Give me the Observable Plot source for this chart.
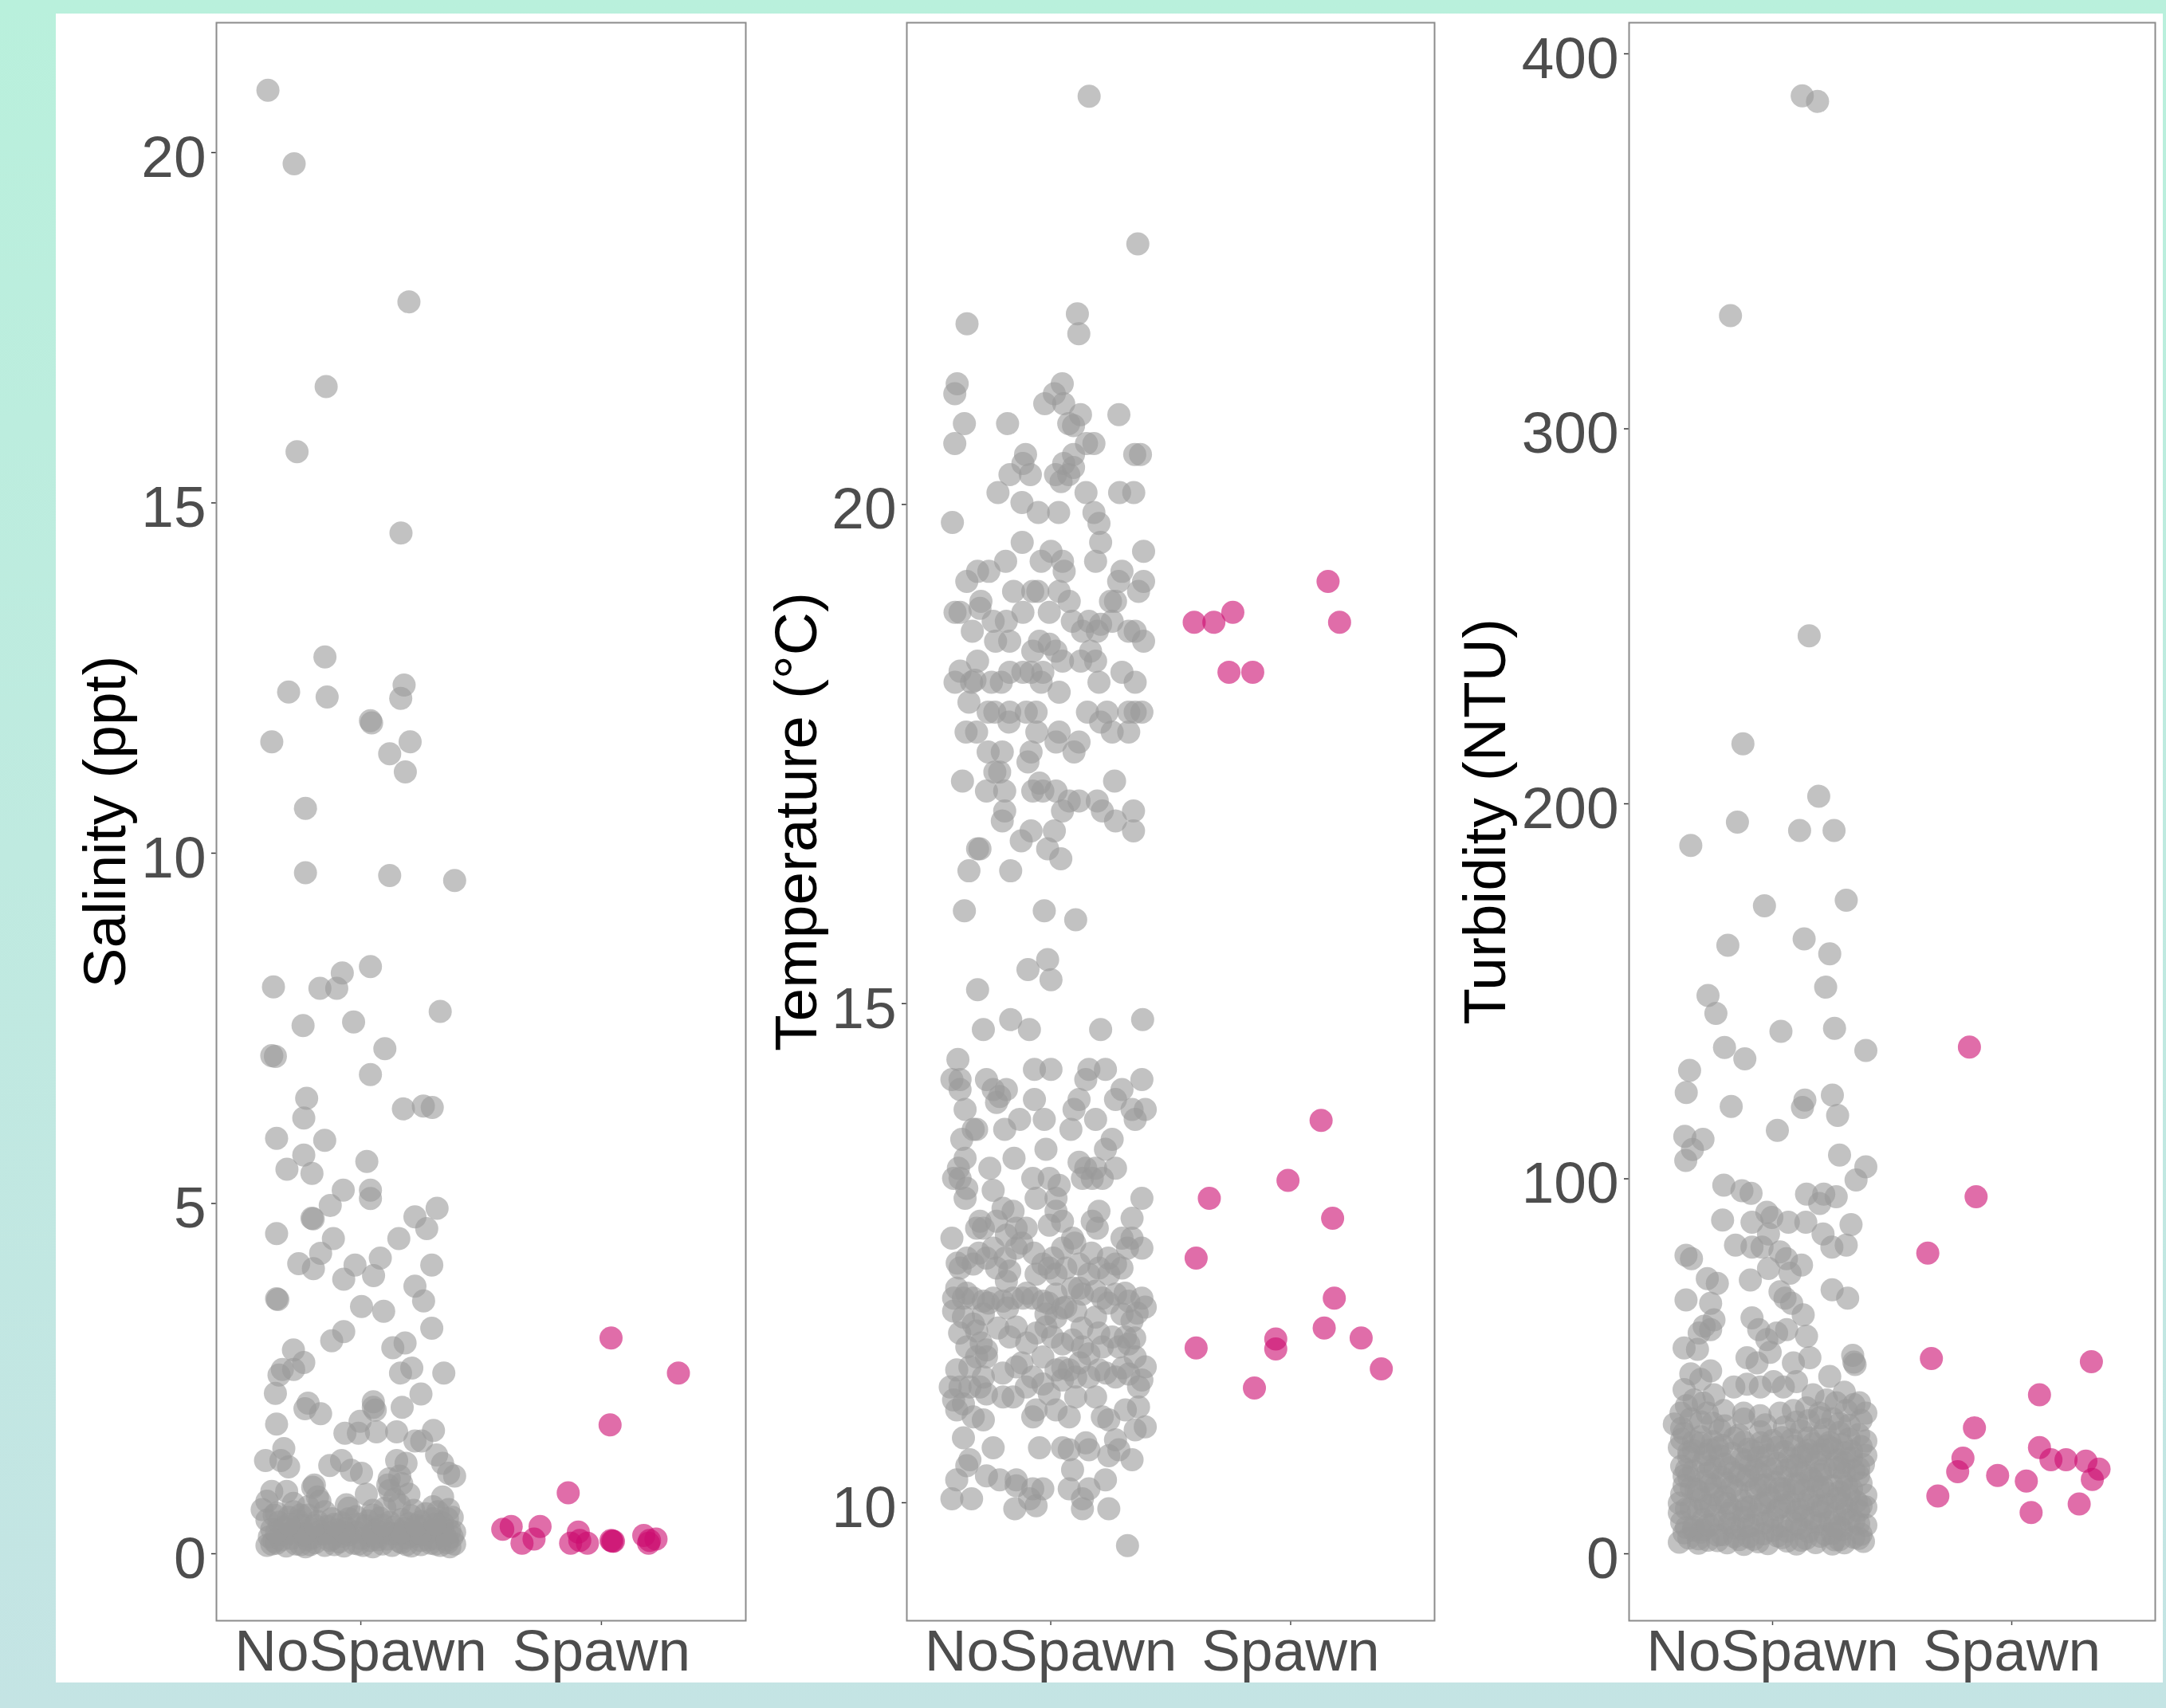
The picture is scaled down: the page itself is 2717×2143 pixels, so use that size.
<!DOCTYPE html>
<html><head><meta charset="utf-8">
<script src="https://cdn.jsdelivr.net/npm/d3@7"></script>
<script src="https://cdn.jsdelivr.net/npm/@observablehq/plot@0.6"></script>
<style>
html,body{margin:0;padding:0}
body{width:2717px;height:2143px;position:relative;overflow:hidden;background:linear-gradient(180deg,#b9f0dc 0%,#bfeae0 50%,#c4e4e4 100%);font-family:"Liberation Sans",Arial,sans-serif}
#sheet{position:absolute;left:70px;top:17px;width:2643px;height:2094px;background:#fff;overflow:visible}
.panel{position:absolute;top:0}
</style></head><body><div id="sheet"></div>
<script>
const categories = ["NoSpawn", "Spawn"];
const salinityTicks = [0, 5, 10, 15, 20];
const temperatureTicks = [10, 15, 20];
const turbidityTicks = [0, 100, 200, 300, 400];

// [value, jitter] pairs
const salinityNoSpawn = [
[20.89,-0.386],[19.84,-0.277],[17.87,0.20],[16.66,-0.144],[15.73,-0.265],[14.57,0.167],
[12.80,-0.149],[12.30,-0.30],[12.23,-0.14],[12.40,0.18],[12.21,0.166],[11.59,-0.37],[11.89,0.04],[11.86,0.045],
[11.59,0.205],[11.42,0.12],[11.16,0.185],[10.64,-0.23],[9.72,-0.23],[9.68,0.12],[9.61,0.39],[8.38,0.04],
[8.29,-0.077],[8.09,-0.363],[8.07,-0.17],[8.07,-0.1],[7.74,0.33],[7.54,-0.24],[7.59,-0.03],[7.11,-0.37],
[7.10,-0.355],[7.21,0.10],[6.84,0.04],[6.50,-0.225],[6.35,0.177],[6.39,0.26],[6.37,0.297],[6.22,-0.237],
[5.93,-0.35],[5.90,-0.15],[5.69,-0.237],[5.49,-0.307],[5.43,-0.203],[5.60,0.025],[5.19,-0.073],[5.19,0.04],
[5.07,0.04],[4.97,-0.127],[4.79,-0.203],[4.78,-0.198],[4.57,-0.35],[4.50,-0.114],[4.81,0.225],[4.93,0.317],
[4.64,0.274],[4.50,0.158],[4.29,-0.167],[4.14,-0.258],[4.07,-0.197],[4.12,-0.024],[4.22,0.081],[3.92,-0.071],
[3.97,0.053],[4.12,0.295],[3.64,-0.35],[3.63,-0.345],[3.82,0.225],[3.61,0.261],[3.53,0.003],[3.46,0.095],
[3.22,0.295],[3.17,-0.071],[3.04,-0.121],[3.01,0.184],[2.94,0.133],[2.91,-0.28],[2.73,-0.237],[2.63,-0.326],
[2.63,-0.279],[2.55,-0.34],[2.65,0.212],[2.58,0.165],[2.58,0.345],[2.29,-0.355],[2.28,0.25],[2.15,-0.219],
[2.00,-0.167],[2.07,-0.232],[2.17,0.052],[2.09,0.052],[2.05,0.06],[2.09,0.172],[1.85,-0.35],[1.72,-0.066],
[1.72,-0.01],[1.89,-0.003],[1.74,0.065],[1.74,0.149],[1.76,0.302],[1.61,0.225],[1.61,0.253],[1.50,-0.32],
[1.33,-0.396],[1.33,-0.332],[1.24,-0.30],[1.26,-0.129],[1.33,-0.08],[1.19,-0.04],[1.15,0.003],[1.33,0.149],
[1.29,0.188],[1.11,0.162],[1.07,0.118],[1.41,0.315],[1.29,0.34],[1.15,0.365],[1.11,0.39],[0.98,-0.193],
[0.81,-0.18],[0.67,-0.219],[0.89,-0.37],[0.89,-0.308],[0.85,0.023],[0.98,0.112],[0.81,0.34],[0.63,-0.41],
[0.67,0.30],[0.63,0.365],
[0.95,-0.2],[0.75,-0.17],[0.6,-0.15],[0.55,-0.25],[0.72,-0.28],[0.9,0.12],[0.78,0.14],[0.65,0.1],[0.7,0.16],
[0.55,0.05],[0.6,0.32],[0.5,0.36],[0.75,-0.39],[0.55,-0.36],[0.5,-0.05],[0.62,0.22],[0.7,-0.06],[1.0,0.17],[0.85,0.2],
[0.12,-0.39],[0.15,-0.35],[0.11,-0.31],[0.14,-0.27],[0.10,-0.23],[0.16,-0.19],[0.12,-0.15],[0.13,-0.11],
[0.11,-0.07],[0.15,-0.03],[0.12,0.01],[0.10,0.05],[0.14,0.09],[0.12,0.13],[0.16,0.17],[0.11,0.21],[0.13,0.25],
[0.15,0.29],[0.12,0.33],[0.10,0.37],[0.14,0.39],
[0.24,-0.38],[0.27,-0.33],[0.22,-0.29],[0.26,-0.24],[0.23,-0.2],[0.28,-0.16],[0.21,-0.12],[0.25,-0.08],
[0.27,-0.05],[0.22,0.0],[0.26,0.03],[0.24,0.07],[0.21,0.11],[0.28,0.15],[0.23,0.19],[0.25,0.23],[0.27,0.27],
[0.22,0.31],[0.26,0.35],[0.24,0.38],
[0.35,-0.37],[0.38,-0.32],[0.33,-0.28],[0.41,-0.25],[0.36,-0.21],[0.32,-0.17],[0.39,-0.14],[0.34,-0.1],
[0.37,-0.06],[0.31,-0.02],[0.4,0.02],[0.35,0.06],[0.33,0.1],[0.38,0.14],[0.36,0.18],[0.32,0.22],[0.39,0.26],
[0.34,0.3],[0.37,0.34],[0.33,0.37],
[0.48,-0.39],[0.45,-0.34],[0.52,-0.3],[0.47,-0.26],[0.55,-0.22],[0.46,-0.18],[0.5,-0.12],[0.44,-0.08],
[0.53,-0.02],[0.47,0.03],[0.51,0.08],[0.45,0.12],[0.49,0.17],[0.54,0.21],[0.46,0.25],[0.5,0.3],[0.44,0.34],[0.52,0.38],
[0.18,-0.36],[0.2,-0.22],[0.17,-0.09],[0.19,0.04],[0.18,0.16],[0.2,0.28],[0.29,-0.3],[0.3,-0.13],[0.29,0.12],
[0.3,0.33],[0.58,-0.35],[0.6,-0.28],[0.62,0.05],[0.57,0.27],[0.65,-0.05],[0.42,-0.01],[0.43,0.2],[0.16,0.36],
[0.13,-0.25],[0.26,0.21],
[0.14,-0.37],[0.2,-0.33],[0.13,-0.21],[0.19,-0.13],[0.14,-0.01],[0.2,0.07],[0.13,0.19],[0.19,0.25],[0.14,0.31],[0.2,0.36],
[0.31,-0.35],[0.29,-0.23],[0.31,-0.07],[0.29,0.05],[0.31,0.17],[0.29,0.25],[0.31,0.39],
[0.42,-0.3],[0.4,-0.19],[0.42,-0.11],[0.41,0.09],[0.4,0.23],[0.42,0.31]
];
const salinitySpawn = [
[3.08,0.04],[2.58,0.32],[1.84,0.036],[0.87,-0.138],[0.35,-0.41],[0.39,-0.375],[0.39,-0.255],[0.15,-0.33],
[0.21,-0.28],[0.31,-0.096],[0.15,-0.128],[0.19,-0.09],[0.15,-0.058],[0.19,0.04],[0.18,0.045],[0.26,0.176],
[0.19,0.20],[0.21,0.227],[0.15,0.196],[0.18,0.05]
];

const temperatureNoSpawn = [
[24.09,0.16],[22.61,0.363],[21.81,-0.349],[21.91,0.111],[21.71,0.117],[21.21,-0.39],[21.11,-0.40],[21.21,0.048],
[21.01,-0.025],[21.11,0.015],[21.01,0.054],[20.90,0.124],[20.90,0.284],[20.81,-0.36],[20.81,-0.18],[20.81,0.075],
[20.79,0.095],[20.61,-0.40],[20.61,0.18],[20.61,0.149],[20.50,-0.105],[20.41,-0.116],[20.50,0.374],[20.50,0.35],
[20.50,0.095],[20.41,0.054],[20.37,0.095],[20.30,0.02],[20.23,0.043],[20.30,0.075],[20.30,-0.17],[20.30,-0.085],
[20.12,-0.22],[20.12,0.147],[20.12,0.287],[20.12,0.346],[20.02,-0.12],[19.92,-0.052],[19.92,0.033],[19.92,0.18],
[19.82,-0.41],[19.81,0.201],[19.62,0.208],[19.62,-0.119],[19.53,0.387],[19.43,0.187],[19.53,0.001],[19.43,0.049],
[19.43,-0.04],[19.43,-0.188],[19.33,-0.305],[19.33,-0.258],[19.23,-0.35],[19.33,0.297],[19.23,0.283],[19.23,0.387],
[19.13,0.366],[19.33,0.056],[19.13,-0.155],[19.13,-0.075],[19.13,-0.054],[19.13,0.035],[19.03,0.077],[19.03,-0.291],
[19.03,0.249],[19.03,0.27],[18.92,-0.399],[18.92,-0.378],[18.96,-0.295],[18.92,-0.116],[18.92,-0.006],[18.83,-0.24],
[18.83,-0.185],[18.83,0.09],[18.83,0.159],[18.80,0.208],[18.83,0.256],[18.73,0.194],[18.73,0.132],[18.73,0.352],
[18.63,0.387],[18.73,0.325],[18.73,-0.327],[18.63,-0.23],[18.63,-0.171],[18.63,-0.047],[18.60,-0.006],[18.53,-0.075],
[18.53,0.022],[18.43,0.049],[18.43,0.125],[18.53,0.166],[18.43,0.187],[18.43,-0.305],[18.33,-0.378],[18.22,-0.399],
[18.22,-0.33],[18.24,-0.316],[18.22,-0.247],[18.22,-0.206],[18.32,-0.171],[18.32,-0.116],[18.32,-0.082],[18.32,-0.033],
[18.22,-0.04],[18.32,0.297],[18.22,0.352],[18.22,0.201],[18.12,0.035],[18.02,-0.341],[17.92,-0.261],[17.92,-0.233],
[17.92,-0.171],[17.92,-0.102],[17.92,-0.061],[17.82,-0.174],[17.92,0.153],[17.92,0.235],[17.92,0.325],[17.92,0.352],
[17.92,0.38],[17.82,0.208],[17.72,0.256],[17.72,0.325],[17.72,-0.353],[17.72,-0.309],[17.72,-0.058],[17.72,0.035],
[17.62,0.022],[17.62,0.118],[17.52,0.097],[17.52,-0.261],[17.52,-0.202],[17.52,-0.082],[17.42,-0.095],[17.32,-0.233],
[17.32,-0.213],[17.23,-0.368],[17.13,-0.268],[17.13,-0.192],[17.13,-0.075],[17.21,-0.047],[17.13,-0.033],[17.13,0.022],
[17.23,0.266],[17.03,0.077],[17.03,0.118],[16.93,0.049],[17.03,0.194],[16.93,0.215],[16.83,0.27],[16.93,0.345],
[16.73,0.345],[16.93,-0.192],[16.83,-0.202],[16.73,-0.082],[16.63,-0.123],[16.73,0.015],[16.55,-0.013],[16.45,0.042],
[16.55,-0.305],[16.55,-0.295],[16.33,-0.341],[16.33,-0.167],[15.93,-0.36],[15.93,-0.027],[15.84,0.104],[15.44,-0.013],
[15.34,-0.095],[15.24,0.001],[15.14,-0.305],[14.84,-0.167],[14.84,0.383],[14.74,-0.281],[14.74,-0.089],[14.74,0.208],
[14.44,-0.387],[14.34,-0.068],[14.34,0.001],[14.34,0.159],[14.24,0.146],[14.34,0.228],[14.24,-0.412],[14.14,-0.378],
[13.94,-0.357],[14.24,-0.378],[14.24,-0.268],[14.14,-0.24],[14.07,-0.213],[14.14,-0.185],[14.01,-0.226],[14.04,-0.068],
[14.04,0.118],[13.94,0.097],[14.14,0.297],[14.04,0.27],[14.24,0.38],[13.94,0.394],[13.94,0.339],[13.84,0.352],
[13.84,-0.13],[13.84,-0.027],[13.84,0.187],[13.74,-0.309],[13.74,-0.323],[13.74,-0.192],[13.74,0.084],[13.64,-0.371],
[13.64,0.256],[13.54,0.228],[13.54,-0.02],[13.45,-0.153],[13.45,-0.357],[13.35,-0.385],[13.25,-0.405],[13.25,-0.378],
[13.15,-0.35],[13.35,-0.254],[13.41,0.118],[13.35,0.146],[13.35,0.187],[13.25,0.132],[13.25,0.173],[13.25,0.215],
[13.35,0.27],[13.25,-0.075],[13.25,-0.006],[13.18,0.035],[13.13,-0.24],[13.05,-0.357],[13.05,-0.061],[13.05,0.38],
[13.05,0.022],[12.92,0.022],[12.82,0.049],[12.78,-0.006],[12.95,-0.199],[12.92,-0.157],[12.82,-0.226],[12.75,-0.281],
[12.82,-0.295],[12.75,-0.309],[12.75,-0.144],[12.75,-0.102],[12.68,-0.185],[12.92,0.201],[12.82,0.173],[12.75,0.194],
[12.85,0.339],[12.65,-0.412],[12.65,0.297],[12.65,0.339],[12.55,0.38],[12.65,0.091],[12.55,0.049],[12.55,-0.144],
[12.55,-0.24],[12.45,-0.35],[12.39,-0.323],[12.35,-0.378],[12.45,-0.268],[12.35,-0.226],[12.39,-0.033],[12.35,-0.006],
[12.29,0.022],[12.35,0.063],[12.29,-0.061],[12.39,0.118],[12.29,0.159],[12.35,0.201],[12.29,0.242],[12.35,0.297],
[12.39,0.27],[12.32,-0.171],[12.22,-0.185],[12.15,-0.392],[12.05,-0.405],[12.05,-0.364],[12.05,-0.323],[12.02,-0.281],
[12.05,-0.24],[12.02,-0.199],[12.05,-0.157],[12.05,-0.116],[12.05,-0.075],[12.02,-0.033],[12.09,0.022],[12.15,0.091],
[12.09,0.132],[12.12,0.187],[12.05,0.215],[12.09,0.27],[12.02,0.325],[12.05,0.38],[11.96,0.394],[11.92,-0.405],
[11.86,-0.364],[11.79,-0.323],[11.89,-0.281],[11.89,-0.02],[11.86,0.022],[11.96,0.063],[11.92,0.104],[11.86,0.187],
[11.89,0.297],[11.82,0.339],[11.72,-0.309],[11.66,-0.171],[11.76,-0.144],[11.76,-0.02],[11.66,0.008],[11.59,0.049],
[11.63,0.091],[11.56,0.132],[11.66,0.256],[11.66,0.311],[11.56,0.215],[11.56,0.284],[11.59,0.325],[11.56,-0.35],
[11.53,-0.268],[11.46,-0.309],[11.46,-0.268],[11.46,-0.033],[11.49,0.159],[11.46,0.352],[11.36,0.394],[11.33,-0.392],
[11.36,-0.337],[11.26,-0.281],[11.16,-0.419],[11.16,-0.378],[11.16,-0.337],[11.16,-0.295],[11.09,-0.268],[11.03,-0.405],
[10.99,-0.364],[10.93,-0.392],[11.36,-0.144],[11.26,-0.075],[11.19,-0.033],[11.33,0.022],[11.23,0.049],[11.33,0.077],
[11.26,0.104],[11.26,0.159],[11.33,0.201],[11.26,0.27],[11.29,0.325],[11.23,0.38],[11.16,0.366],[11.06,-0.199],
[11.06,-0.157],[11.16,-0.102],[11.09,-0.006],[11.06,0.104],[11.06,0.187],[10.93,-0.061],[10.86,-0.075],[10.93,0.022],
[10.86,0.077],[10.86,0.215],[10.83,0.242],[10.93,0.311],[10.96,0.366],[10.76,0.394],[10.73,0.352],[10.86,-0.323],
[10.83,-0.281],[10.65,-0.364],[10.55,-0.24],[10.43,-0.337],[10.37,-0.35],[10.23,-0.392],[10.55,-0.047],[10.55,0.049],
[10.53,0.077],[10.60,0.146],[10.53,0.159],[10.63,0.27],[10.53,0.284],[10.43,0.339],[10.33,0.091],[10.47,0.242],
[10.23,0.228],[10.27,-0.268],[10.23,-0.213],[10.23,-0.144],[10.17,-0.144],[10.14,-0.075],[10.14,-0.033],[10.04,-0.088],
[9.97,-0.061],[10.04,-0.412],[10.04,-0.33],[10.14,0.077],[10.04,0.132],[10.14,0.159],[9.94,-0.15],[9.94,0.132],
[9.94,0.242],[9.57,0.32],
[12.1,-0.35],[12.0,-0.26],[11.95,-0.18],[12.1,-0.1],[12.0,-0.01],[11.95,0.05],[12.15,0.12],[12.0,0.24],[12.1,0.31],[11.9,0.36],
[12.4,-0.39],[12.5,-0.3],[12.45,-0.19],[12.6,-0.12],[12.5,-0.07],[12.45,0.01],[12.6,0.1],[12.5,0.17],[12.45,0.24],[12.55,0.32],
[11.7,-0.38],[11.6,-0.29],[11.75,-0.22],[11.6,-0.1],[11.7,-0.06],[11.75,0.13],[11.7,0.2],[11.65,0.35],
[11.3,-0.2],[11.4,-0.12],[11.35,0.05],[11.4,0.12],[11.3,0.23],[11.35,0.3]
];
const temperatureSpawn = [
[19.23,0.156],[18.82,-0.402],[18.82,-0.32],[18.92,-0.241],[18.82,0.204],[18.32,-0.257],[18.32,-0.158],
[13.83,0.127],[13.23,-0.011],[13.05,-0.339],[12.85,0.175],[12.45,-0.394],[12.05,0.182],[11.75,0.14],
[11.64,-0.062],[11.54,-0.062],[11.65,0.294],[11.55,-0.394],[11.34,0.378],[11.15,-0.151]
];

const turbidityNoSpawn = [
[388.8,0.124],[387.3,0.188],[330.2,-0.176],[244.8,0.153],[216.0,-0.124],[202.0,0.193],[195.1,-0.147],[192.9,0.113],
[192.9,0.257],[188.9,-0.342],[172.8,-0.034],[174.3,0.308],[162.3,-0.187],[164.0,0.132],[160.0,0.239],[151.1,0.222],
[148.9,-0.27],[144.1,-0.237],[139.3,0.035],[140.1,0.259],[135.0,-0.201],[132.0,-0.116],[134.2,0.39],[128.9,-0.347],
[123.0,-0.361],[119.3,-0.173],[121.0,0.135],[119.0,0.125],[122.3,0.25],[116.9,0.272],[112.9,0.02],[111.3,-0.367],
[110.5,-0.291],[107.8,-0.335],[104.9,-0.363],[106.3,0.28],[103.2,0.39],[99.7,0.349],[98.3,-0.204],[96.8,-0.128],
[96.1,-0.09],[95.9,0.142],[95.9,0.214],[95.2,0.266],[93.4,0.197],[89.0,-0.209],[91.1,-0.024],[89.7,-0.003],
[88.4,-0.086],[88.4,0.066],[88.4,0.139],[87.8,0.328],[85.3,0.211],[81.8,0.248],[82.3,0.308],[82.3,-0.155],
[81.8,-0.086],[81.8,-0.044],[85.3,-0.017],[79.6,-0.362],[78.7,-0.339],[80.5,0.031],[78.7,0.058],[77.0,0.121],
[76.1,-0.017],[74.8,0.073],[73.4,-0.273],[72.1,-0.231],[73.0,-0.093],[70.4,0.249],[68.2,0.314],[69.9,0.031],
[68.2,0.052],[66.8,0.08],[63.7,0.128],[67.7,-0.362],[66.8,-0.259],[62.4,-0.245],[60.7,-0.286],[58.9,-0.307],
[59.8,-0.259],[62.9,-0.086],[59.8,-0.058],[57.1,-0.024],[58.9,0.017],[59.8,0.059],[58.0,0.142],[54.9,-0.37],
[54.5,-0.314],[52.9,0.335],[52.3,-0.107],[50.9,-0.065],[53.7,-0.01],[50.9,0.087],[52.3,0.156],[51.1,0.34],
[50.5,0.345],[47.3,0.239],[48.0,-0.342],[48.8,-0.259],[43.8,-0.37],[41.0,-0.328],[37.5,-0.383],[42.4,-0.245],
[44.5,-0.162],[45.2,-0.107],[44.5,-0.051],[45.9,0.004],[44.5,0.045],[45.9,0.1],[42.4,0.169],[41.0,0.225],
[40.3,0.266],[40.3,0.363],[34.6,-0.411],[36.0,-0.342],[37.5,-0.273],[38.2,-0.204],[37.5,-0.121],[36.8,-0.052],
[37.5,0.031],[38.2,0.087],[38.9,0.142],[37.5,0.197],[36.0,0.252],[38.2,0.308],[37.5,0.39],
[33.5,-0.38],[35.2,-0.3],[34.1,-0.2],[39.5,-0.36],[40.2,-0.29],[46.5,-0.3],[33.8,0.05],[35.5,0.15],[34.2,0.32],
[39.8,0.34],[43.1,0.3],[33.2,0.22],
[3.1,-0.39],[4.2,-0.35],[2.8,-0.31],[3.6,-0.27],[5.0,-0.23],[2.9,-0.19],[3.8,-0.14],[4.5,-0.1],[3.2,-0.06],
[2.7,-0.02],[4.8,0.02],[3.4,0.06],[2.6,0.1],[4.1,0.14],[3.0,0.18],[5.2,0.22],[3.7,0.26],[2.9,0.3],[4.4,0.34],[3.3,0.38],
[8.4,-0.38],[7.1,-0.33],[9.2,-0.29],[7.8,-0.25],[8.9,-0.2],[6.9,-0.16],[9.6,-0.12],[7.5,-0.08],[8.2,-0.04],
[9.9,0.0],[7.3,0.04],[8.7,0.08],[6.8,0.12],[9.4,0.16],[7.9,0.2],[8.5,0.24],[7.2,0.28],[9.1,0.32],[8.0,0.36],[7.6,0.39],
[13.5,-0.39],[12.2,-0.34],[14.6,-0.3],[12.9,-0.26],[13.8,-0.22],[11.9,-0.17],[14.2,-0.13],[12.6,-0.09],[13.1,-0.05],
[14.9,-0.01],[12.4,0.03],[13.7,0.07],[11.8,0.11],[14.4,0.15],[12.8,0.19],[13.3,0.23],[14.7,0.27],[12.1,0.31],[13.9,0.35],[12.5,0.39],
[18.2,-0.37],[17.1,-0.32],[19.4,-0.28],[17.8,-0.24],[18.9,-0.19],[16.8,-0.15],[19.7,-0.11],[17.5,-0.07],[18.4,-0.03],
[19.1,0.01],[17.3,0.05],[18.6,0.09],[16.9,0.13],[19.5,0.17],[17.7,0.21],[18.1,0.25],[19.3,0.29],[17.2,0.33],[18.8,0.37],
[23.4,-0.38],[22.1,-0.33],[24.5,-0.29],[22.8,-0.24],[23.9,-0.2],[21.7,-0.16],[24.8,-0.11],[22.5,-0.07],[23.2,-0.03],
[24.1,0.02],[22.3,0.06],[23.7,0.1],[21.9,0.14],[24.6,0.18],[22.7,0.22],[23.1,0.26],[24.3,0.3],[22.2,0.34],[23.8,0.38],
[28.3,-0.39],[27.1,-0.35],[29.5,-0.3],[27.7,-0.26],[28.9,-0.21],[26.8,-0.17],[29.8,-0.12],[27.4,-0.08],[28.5,-0.04],
[30.2,0.0],[27.2,0.05],[28.7,0.09],[26.9,0.13],[29.4,0.17],[27.8,0.21],[28.1,0.25],[29.2,0.29],[27.3,0.33],[28.6,0.37],
[32.1,-0.37],[31.2,-0.3],[33.0,-0.22],[31.6,-0.14],[32.5,-0.05],[31.0,0.04],[32.8,0.12],[31.4,0.2],[32.3,0.28],[31.8,0.36],
[5.8,-0.3],[6.2,0.0],[5.5,0.25],[10.8,-0.18],[11.2,0.1],[10.5,0.3],[15.8,-0.25],[16.2,0.05],[15.5,0.32],[20.7,-0.1],
[21.1,0.2],[20.4,-0.35],[25.9,0.12],[26.1,-0.22],[25.6,0.33],[2.5,-0.12],[2.6,0.25],
[5.6,-0.37],[6.4,-0.29],[5.1,-0.21],[6.7,-0.13],[5.3,-0.04],[6.0,0.06],[5.9,0.15],[6.5,0.29],[5.2,0.37],[6.3,-0.33],
[10.9,-0.39],[11.6,-0.31],[10.2,-0.24],[11.4,-0.12],[10.6,-0.06],[11.7,0.02],[10.1,0.13],[11.3,0.2],[10.7,0.26],[11.5,0.36],
[15.9,-0.38],[16.6,-0.31],[15.2,-0.2],[16.4,-0.09],[15.7,-0.02],[16.7,0.09],[15.3,0.17],[16.1,0.23],[15.6,0.39],[16.5,0.28],
[20.8,-0.37],[21.5,-0.27],[20.3,-0.21],[21.3,-0.05],[20.6,0.04],[21.6,0.12],[20.2,0.16],[21.4,0.3],[20.9,0.36],[21.0,-0.14],
[25.8,-0.35],[26.5,-0.28],[25.3,-0.13],[26.3,-0.02],[25.5,0.07],[26.6,0.2],[25.1,0.27],[26.2,0.39],[25.7,-0.06],[26.4,0.15],
[30.5,-0.38],[29.9,-0.25],[30.8,-0.16],[29.6,-0.05],[30.4,0.08],[30.9,0.15],[29.7,0.24],[30.6,0.32],[30.1,0.39],[29.9,-0.33],
[34.8,-0.25],[35.9,-0.12],[34.4,-0.03],[35.1,0.1],[36.3,0.2],[34.7,0.28],[35.6,0.37],
[4.0,-0.31],[3.5,-0.23],[4.6,-0.16],[3.9,-0.08],[4.3,0.04],[3.6,0.12],[4.7,0.2],[3.8,0.28],[4.1,0.36],
[7.0,-0.36],[7.7,-0.27],[8.1,-0.18],[7.4,-0.1],[8.6,-0.02],[7.9,0.1],[8.3,0.18],[7.5,0.26],[8.8,0.34],
[12.0,-0.36],[12.7,-0.28],[13.4,-0.19],[12.3,-0.11],[13.6,-0.03],[12.9,0.05],[13.2,0.13],[12.6,0.21],[13.5,0.29],[12.8,0.37],
[17.6,-0.34],[18.5,-0.26],[17.9,-0.17],[18.3,-0.05],[17.4,0.03],[18.7,0.11],[17.8,0.19],[18.0,0.31],
[22.4,-0.36],[23.3,-0.26],[22.9,-0.18],[23.6,-0.09],[22.6,0.0],[23.5,0.08],[22.0,0.2],[23.0,0.28],[22.8,0.36],
[27.5,-0.33],[28.2,-0.23],[27.9,-0.1],[28.4,0.02],[27.6,0.15],[28.8,0.23],[27.0,0.3]
];
const turbiditySpawn = [
[135.1,-0.177],[95.2,-0.149],[80.2,-0.351],[52.1,-0.336],[51.2,0.333],[42.4,0.116],[33.6,-0.156],[28.3,0.116],
[25.5,-0.204],[25.1,0.164],[25.1,0.227],[24.7,0.31],[22.6,0.365],[21.9,-0.226],[19.8,0.337],[20.9,-0.059],
[19.4,0.061],[15.4,-0.309],[13.3,0.282],[11.0,0.081]
];

const FONT = '"Liberation Sans", Arial, sans-serif';

function panel({noSpawn, spawn, domain, ticks, label, labelDx, left, marginLeft, innerWidth}) {
  const grey = noSpawn.map(([v, j]) => ({group: categories[0], x: 1 + j, y: v}));
  const pink = spawn.map(([v, j]) => ({group: categories[1], x: 2 + j, y: v}));
  const chart = Plot.plot({
    width: marginLeft + innerWidth + 10,
    height: 2094,
    marginTop: 11,
    marginBottom: 78,
    marginLeft,
    marginRight: 10,
    style: {background: "transparent", fontFamily: FONT, overflow: "visible"},
    x: {domain: [0.4, 2.6], axis: null},
    y: {domain, axis: null},
    marks: [
      Plot.dot(grey, {x: "x", y: "y", r: 14.5, fill: "#999999", fillOpacity: 0.6}),
      Plot.dot(pink, {x: "x", y: "y", r: 14.5, fill: "#cc0c70", fillOpacity: 0.6}),
      Plot.axisY({ticks, tickSize: 6, tickFormat: () => "", label: null, color: "#333333", strokeWidth: 1.5}),
      Plot.axisY({ticks, tickSize: 0, tickPadding: 13, dy: 7, fontSize: 73, label: null, color: "#4d4d4d"}),
      Plot.axisX({ticks: [1, 2], tickSize: 6, tickPadding: 5, tickFormat: d => categories[Math.round(d) - 1],
        fontSize: 73, label: null, color: "#4d4d4d", strokeWidth: 1.5}),
      Plot.frame({stroke: "#8c8c8c", strokeWidth: 2}),
      Plot.text([label], {frameAnchor: "left", rotate: -90, dx: labelDx, fontSize: 75, fill: "#000000",
        textAnchor: "middle", lineAnchor: "middle", text: d => d})
    ]
  });
  chart.classList.add("panel");
  chart.style.left = left + "px";
  document.getElementById("sheet").append(chart);
}

panel({noSpawn: salinityNoSpawn, spawn: salinitySpawn, domain: [-0.956, 21.854], ticks: salinityTicks,
  label: "Salinity (ppt)", labelDx: -139, left: 0, marginLeft: 201, innerWidth: 664});
panel({noSpawn: temperatureNoSpawn, spawn: temperatureSpawn, domain: [8.818, 24.826], ticks: temperatureTicks,
  label: "Temperature (°C)", labelDx: -138, left: 875, marginLeft: 192, innerWidth: 662});
panel({noSpawn: turbidityNoSpawn, spawn: turbiditySpawn, domain: [-17.85, 408.29], ticks: turbidityTicks,
  label: "Turbidity (NTU)", labelDx: -180, left: 1739, marginLeft: 234, innerWidth: 660});
</script></body></html>
